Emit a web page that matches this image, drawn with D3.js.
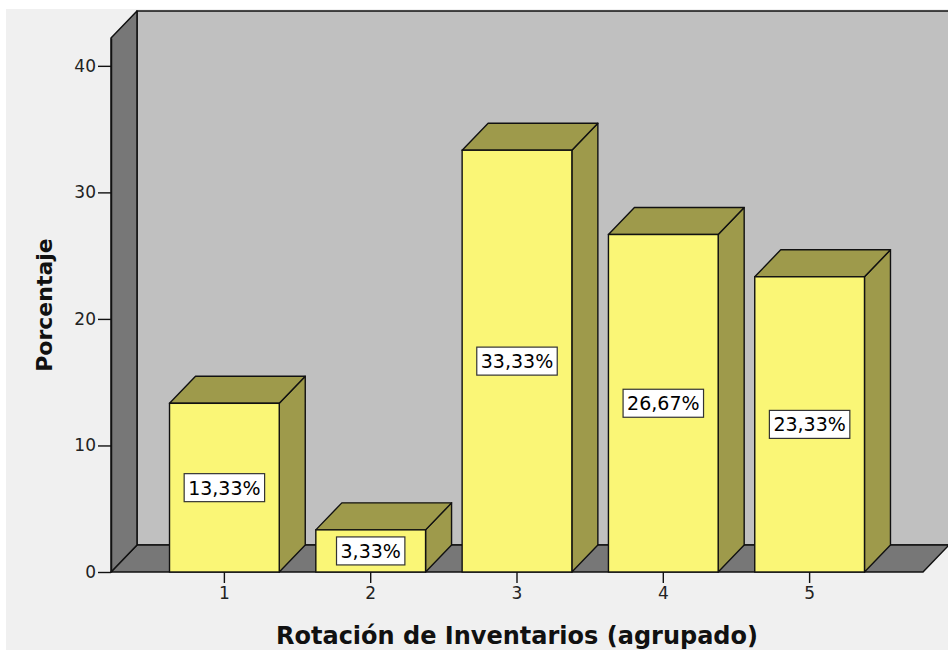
<!DOCTYPE html>
<html>
<head>
<meta charset="utf-8">
<script src="https://cdn.jsdelivr.net/npm/d3@7"></script>
<style>
  body { margin: 0; background: #fff; }
  text { font-family: "DejaVu Sans", Verdana, sans-serif; }
</style>
</head>
<body>
<div id="chart"></div>
<script>
// Rotación de Inventarios (agrupado) - 3D bar chart, percent per group
const categories = ["1", "2", "3", "4", "5"];
const percents = [13.33, 3.33, 33.33, 26.67, 23.33];
const yTicks = [0, 10, 20, 30, 40];
const xTitle = "Rotación de Inventarios (agrupado)";
const yTitle = "Porcentaje";

const W = 948, H = 650;
const depth = { dx: 26, dy: -27 };

const svg = d3.select("#chart").append("svg")
    .attr("width", W)
    .attr("height", H);

// page background
svg.append("rect").attr("width", W).attr("height", H).attr("fill", "#fff");
svg.append("rect").attr("x", 6).attr("y", 9).attr("width", W - 6).attr("height", H - 9).attr("fill", "#f0f0f0");

// scales on the front plane
const x = d3.scaleBand()
    .domain(categories)
    .range([111, 923])
    .paddingInner(0.25)
    .paddingOuter(0.4);

const y = d3.scaleLinear()
    .domain([0, 42.2])
    .range([572, 38]);

const x0 = x.range()[0], x1 = x.range()[1];
const yb = y(0), yt = y(y.domain()[1]);

const pts = a => a.map(p => p.join(",")).join(" ");

// back wall
svg.append("rect")
    .attr("x", x0 + depth.dx).attr("y", yt + depth.dy)
    .attr("width", x1 - x0).attr("height", yb - yt)
    .attr("fill", "#c0c0c0").attr("stroke", "#111").attr("stroke-width", 1.5);

// floor
svg.append("polygon")
    .attr("points", pts([[x0, yb], [x1, yb], [x1 + depth.dx, yb + depth.dy], [x0 + depth.dx, yb + depth.dy]]))
    .attr("fill", "#777").attr("stroke", "#111").attr("stroke-width", 1.5).attr("stroke-linejoin", "round");

// side wall
svg.append("polygon")
    .attr("points", pts([[x0, yb], [x0, yt], [x0 + depth.dx, yt + depth.dy], [x0 + depth.dx, yb + depth.dy]]))
    .attr("fill", "#777").attr("stroke", "#111").attr("stroke-width", 1.5).attr("stroke-linejoin", "round");

// bars
const bars = svg.append("g").selectAll("g")
    .data(percents.map((v, i) => ({ cat: categories[i], value: v })))
    .join("g");

const bw = x.bandwidth();

bars.append("polygon") // side
    .attr("points", d => {
        const bx = x(d.cat) + bw, by = y(d.value);
        return pts([[bx, by], [bx + depth.dx, by + depth.dy], [bx + depth.dx, yb + depth.dy], [bx, yb]]);
    })
    .attr("fill", "#9e9a4b").attr("stroke", "#111").attr("stroke-width", 1.4).attr("stroke-linejoin", "round");

bars.append("polygon") // top
    .attr("points", d => {
        const bx = x(d.cat), by = y(d.value);
        return pts([[bx, by], [bx + bw, by], [bx + bw + depth.dx, by + depth.dy], [bx + depth.dx, by + depth.dy]]);
    })
    .attr("fill", "#9e9a4b").attr("stroke", "#111").attr("stroke-width", 1.4).attr("stroke-linejoin", "round");

bars.append("rect") // front
    .attr("x", d => x(d.cat))
    .attr("y", d => y(d.value))
    .attr("width", bw)
    .attr("height", d => yb - y(d.value))
    .attr("fill", "#faf676").attr("stroke", "#111").attr("stroke-width", 1.4);

// value labels
const fmt = v => v.toFixed(2).replace(".", ",") + "%";
bars.each(function(d) {
    const g = d3.select(this);
    const cx = x(d.cat) + bw / 2, cy = (y(d.value) + yb) / 2;
    const t = g.append("text")
        .attr("x", cx).attr("y", cy).attr("dy", "0.36em")
        .attr("text-anchor", "middle")
        .attr("font-size", "19px")
        .attr("fill", "#000")
        .text(fmt(d.value));
    const bb = t.node().getBBox();
    g.insert("rect", "text")
        .attr("x", cx - bb.width / 2 - 4).attr("y", cy - 14)
        .attr("width", bb.width + 8).attr("height", 28)
        .attr("fill", "#fff").attr("stroke", "#333").attr("stroke-width", 1.2);
});

// y axis
const yAxis = svg.append("g")
    .attr("transform", `translate(${x0},0)`)
    .call(d3.axisLeft(y).tickValues(yTicks).tickSize(13).tickPadding(2).tickSizeOuter(0));
yAxis.select(".domain").attr("stroke", "#111").attr("stroke-width", 1.5);
yAxis.selectAll(".tick line").attr("stroke", "#111").attr("stroke-width", 1.4);
yAxis.selectAll(".tick text").attr("font-size", "17px").attr("fill", "#222")
    .attr("font-family", "DejaVu Sans, sans-serif");

// x axis
const xAxis = svg.append("g")
    .attr("transform", `translate(0,${yb})`)
    .call(d3.axisBottom(x).tickSize(11).tickPadding(4).tickSizeOuter(0));
xAxis.select(".domain").remove();
xAxis.selectAll(".tick line").attr("stroke", "#111").attr("stroke-width", 1.4);
xAxis.selectAll(".tick text").attr("font-size", "17px").attr("fill", "#222")
    .attr("font-family", "DejaVu Sans, sans-serif");

// axis titles
svg.append("text")
    .attr("x", 517).attr("y", 644)
    .attr("text-anchor", "middle")
    .attr("font-size", "24px").attr("font-weight", "bold").attr("fill", "#111")
    .text(xTitle);

svg.append("text")
    .attr("transform", "translate(52,305) rotate(-90)")
    .attr("text-anchor", "middle")
    .attr("font-size", "22px").attr("font-weight", "bold").attr("fill", "#111")
    .text(yTitle);
</script>
</body>
</html>
